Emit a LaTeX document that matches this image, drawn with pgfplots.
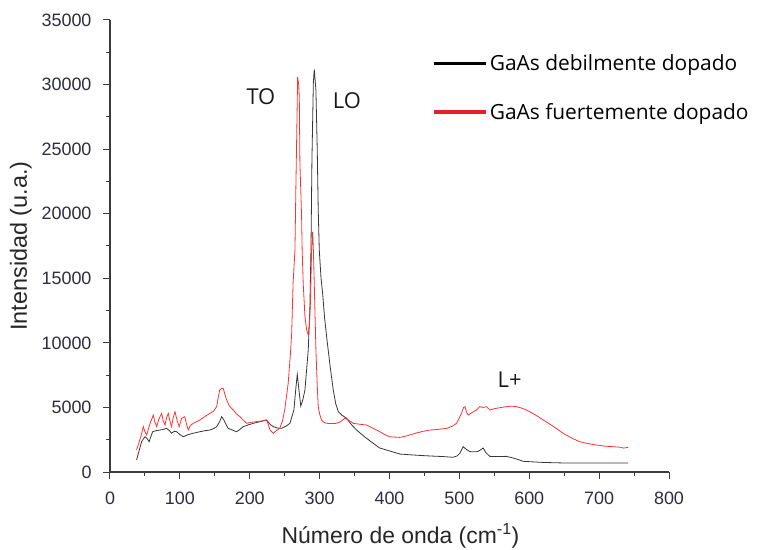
\documentclass[border=0pt]{standalone}
\usepackage{fontspec}
\setmainfont{Liberation Sans}
\newfontfamily\legfont{Open Sans}
\usepackage{pgfplots}
\pgfplotsset{compat=1.18}

\definecolor{axisgray}{RGB}{60,60,60}
\definecolor{ticktext}{RGB}{45,45,60}
\definecolor{weakline}{RGB}{55,55,55}
\definecolor{strongline}{RGB}{255,50,50}
\definecolor{legred}{RGB}{232,30,40}

\begin{document}
\begin{tikzpicture}
\useasboundingbox (-110bp,-78bp) rectangle (648bp,472bp);
\begin{axis}[
  scale only axis,
  width=559bp, height=452bp,
  xmin=0, xmax=800, ymin=0, ymax=35000,
  axis x line*=bottom, axis y line*=left,
  axis line style={axisgray, line width=1.2bp},
  xtick={0,100,...,800}, ytick={0,5000,...,35000},
  minor tick num=1,
  tick align=outside,
  major tick length=7bp, minor tick length=4bp,
  every tick/.style={axisgray, line width=1bp},
  scaled ticks=false,
  /pgf/number format/assume math mode=true,
  /pgf/number format/set thousands separator={},
  tick label style={font=\fontsize{18}{19}\selectfont, text=ticktext},
  xticklabel style={yshift=-9bp},
  yticklabel style={xshift=-8bp},
  xlabel={Número de onda (cm\textsuperscript{-1})},
  ylabel={Intensidad (u.a.)},
  label style={text=black!85},
  xlabel style={font=\fontsize{23}{26}\selectfont, yshift=-12bp, xshift=11bp},
  ylabel style={font=\fontsize{23.5}{26}\selectfont, yshift=3bp},
  legend style={draw=none, fill=none, at={(0.576,0.928)}, anchor=north west,
    font=\legfont\fontsize{21}{24}\selectfont, row sep=27bp, inner sep=0pt,
    /tikz/every even column/.append style={column sep=6bp}},
  legend cell align=left,
  legend image code/.code={\draw[#1] (0bp,0bp) -- (52bp,0bp);},
]

% legend entries (thick sample lines)
\addlegendimage{black, line width=3.6bp}
\addlegendentry{GaAs debilmente dopado}
\addlegendimage{legred, line width=3.6bp}
\addlegendentry{GaAs fuertemente dopado}

% weakly doped GaAs
\addplot[weakline, line width=0.8bp, forget plot] coordinates {
(38,930) (41.9,1700) (45.3,2350) (50,2730) (53,2600) (56,2350) (61,3120)
(66,3200) (71.5,3250) (76,3300) (81,3380) (85,3200) (88,3000) (92,3150)
(95.4,3120) (100,2900) (105,2730) (112,2900) (119,3000) (128.8,3120)
(136,3200) (143,3250) (148,3350) (152.6,3510) (157,3900) (159.8,4280)
(163,4030) (166,3700) (169,3380) (175,3250) (181,3120) (186,3300)
(190.7,3510) (198,3650) (205,3770) (215,3900) (224,4030) (229,3700)
(233.6,3510) (240,3400) (245.6,3380) (252,3550) (257.5,3770) (263.2,4800)
(266,6500) (268,7560) (270.5,6300) (273,5110) (276,5600) (279,6350)
(283.7,9450) (286,12540) (287.6,17190) (289,24160) (291,30100) (292.3,31180)
(294.7,29580) (296.6,24930) (298,20290) (299.5,17190) (302,15000)
(304.3,13840) (307,12000) (310,10480) (315,8200) (319.5,6350) (323,5300)
(326.7,4670) (332,4400) (338.6,4160) (345,3700) (352.9,3250) (365,2700)
(376.7,2220) (386,1860) (395.8,1700) (405,1550) (415,1390) (430,1330)
(445,1280) (458,1240) (475,1200) (491,1140) (497,1250) (500.7,1450)
(505.5,1960) (510,1750) (515,1580) (520,1560) (526,1580) (530,1700)
(534,1860) (538,1500) (543.6,1210) (555,1200) (567.5,1210) (577,1080)
(585,950) (591,830) (600,800) (620,740) (648.5,700) (680,700) (710,690)
(741.5,700)
};

% heavily doped GaAs
\addplot[strongline, line width=0.8bp, forget plot] coordinates {
(38,1700) (44,2700) (47.7,3510) (50,3100) (52.5,2870) (57,3700) (62,4410)
(64,3900) (66.8,3510) (70,4100) (74,4540) (76,4000) (78.7,3640) (81,4200)
(83.4,4540) (85.5,4000) (88,3510) (90.5,4200) (93,4670) (96,4000) (99,3510)
(102.5,4160) (107,4280) (109.5,3700) (112,3250) (115,3600) (119,3770)
(124,3900) (128.8,4030) (136,4300) (143,4540) (148,4700) (152.6,5060)
(155,5800) (157,6350) (160,6480) (162,6480) (164.5,6000) (167,5580)
(171,5100) (176.4,4800) (181,4500) (186,4280) (191,4000) (195.6,3770)
(202,3850) (210,3900) (217,3950) (224,4030) (226.5,3700) (229,3250)
(233.6,3000) (238,3200) (243,3380) (247,4000) (250,4800) (255,6870)
(258,9000) (260,10740) (262,14610) (264.7,17190) (266,22000) (267.5,27000)
(268.5,30600) (270,30000) (270.9,29060) (271.8,23900) (274.2,19770)
(275,17190) (276.5,14610) (279,12030) (281.5,11000) (283.7,10610)
(285.5,11500) (287,13320) (288.5,17190) (290,18600) (291.2,17000)
(292.3,14610) (294.7,9450) (296.5,6800) (298,5060) (300,4500) (302.7,4030)
(306,3850) (310,3770) (318,3750) (324,3770) (330,3900) (336,4160) (342,4000)
(348,3770) (357,3700) (367,3640) (376,3400) (386,3120) (393,2900)
(400.6,2730) (408,2700) (415,2680) (425,2800) (437,3000) (448,3150)
(458,3250) (470,3300) (481.7,3380) (490,3550) (496,3770) (500,4200)
(503,4540) (506,5000) (508,5060) (510.5,4600) (512.6,4410) (518,4600)
(524.6,4800) (529,5060) (534,5000) (538.8,5060) (543.6,4800) (550,4900)
(560,5000) (567.5,5060) (575,5100) (581.8,5060) (589,4950) (596,4800)
(608,4450) (620,4030) (634,3550) (648.5,3000) (660,2650) (672,2350)
(684,2200) (696,2090) (708,2000) (720,1960) (730,1920) (735,1850)
(741.5,1910)
};

% phonon mode labels
\node[font=\legfont\fontsize{22}{24}\selectfont, text=black!90] at (axis cs:216,29040) {TO};
\node[font=\legfont\fontsize{22}{24}\selectfont, text=black!90] at (axis cs:339,28730) {LO};
\node[font=\legfont\fontsize{22}{24}\selectfont, text=black!90] at (axis cs:572,7120) {L+};
\end{axis}
\end{tikzpicture}
\end{document}
